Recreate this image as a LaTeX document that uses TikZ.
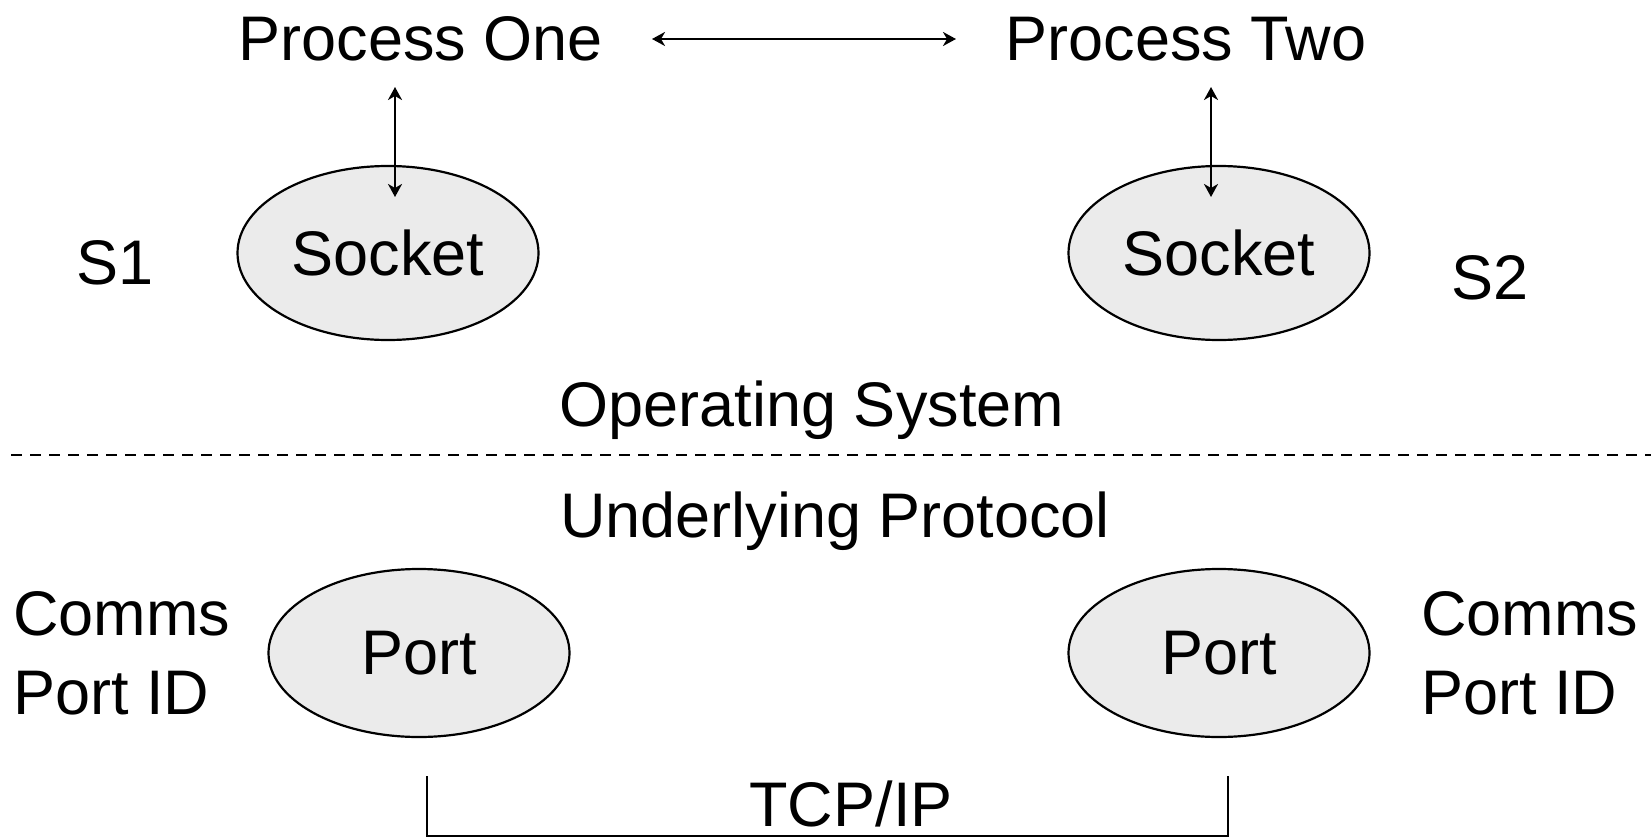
\documentclass[tikz,border=0pt]{standalone}
\usepackage{fontspec}
\setmainfont{Liberation Sans}
\usetikzlibrary{shapes.geometric,arrows.meta}
\begin{document}
\begin{tikzpicture}[x=1pt,y=-1pt,
  txt/.style={font=\fontsize{63}{76}\selectfont, inner sep=0pt, anchor=base},
  txtl/.style={txt, anchor=base west},
  oval/.style={ellipse, draw, line width=2.2pt, fill=black!8, inner sep=0pt,
    minimum width=301pt, font=\fontsize{63}{76}\selectfont},
  link/.style={line width=2.5pt, {Stealth[length=13pt,width=14pt,inset=4pt]}-{Stealth[length=13pt,width=14pt,inset=4pt]}}
]
\useasboundingbox (0,0) rectangle (1651,837);
% top texts
\node[txt] (p1) at (421,61) {Process One};
\node[txt] (p2) at (1186,61) {Process Two};
\node[txtl] (s1) at (76,284) {S1};
\node[txtl] (s2) at (1451,299) {S2};
% sockets
\node[oval, minimum height=174pt] (sock1) at (388,253) {Socket};
\node[oval, minimum height=174pt] (sock2) at (1219,253) {Socket};
% arrows
\coordinate (h1) at (652,39);
\coordinate (h2) at (956,39);
\draw[link] (h1) -- (h2);
\coordinate (v1a) at (395,87);
\coordinate (v1b) at (395,197);
\draw[link] (v1a) -- (v1b);
\coordinate (v2a) at (1211,87);
\coordinate (v2b) at (1211,197);
\draw[link] (v2a) -- (v2b);
% OS
\node[txt] (os) at (812,426) {Operating System};
\coordinate (dl) at (11,455);
\coordinate (dr) at (1651,455);
\draw[line width=2.4pt, dash pattern=on 11pt off 8pt] (dl) -- (dr);
\node[txt] (up) at (835,537) {Underlying Protocol};
% ports
\node[oval, minimum height=168pt] (port1) at (419,653) {Port};
\node[oval, minimum height=168pt] (port2) at (1219,653) {Port};
\node[txtl] (c1a) at (13,635) {Comms};
\node[txtl] (c1b) at (13,714) {Port ID};
\node[txtl] (c2a) at (1421,635) {Comms};
\node[txtl] (c2b) at (1421,714) {Port ID};
% TCP/IP bracket
\node[txt] (tcp) at (851,826) {TCP/IP};
\coordinate (b1) at (427,776);
\coordinate (b2) at (427,836);
\coordinate (b3) at (1228,836);
\coordinate (b4) at (1228,776);
\draw[line width=2pt] (b1) -- (b2) -- (b3) -- (b4);
\end{tikzpicture}
\end{document}
